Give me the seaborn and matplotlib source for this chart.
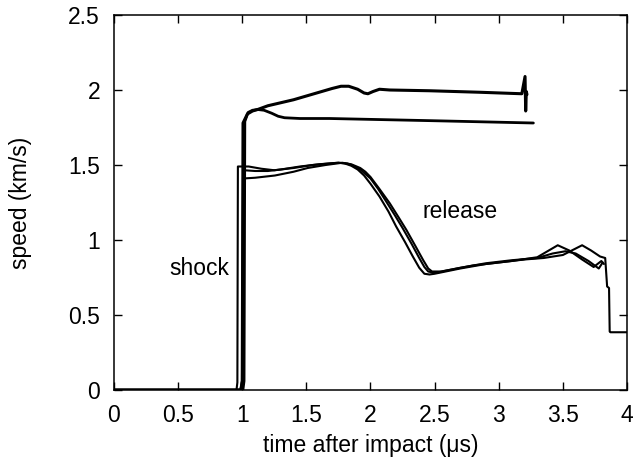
import numpy as np
import pandas as pd
import matplotlib
matplotlib.use("Agg")
import matplotlib.pyplot as plt
import seaborn as sns

# Upper pair of records (higher impact speed)
t_a = [0, 0.99, 1.0, 1.006, 1.04, 1.08, 1.12, 1.2, 1.3, 1.4, 1.5, 1.6, 1.7, 1.77, 1.83, 1.9, 1.95, 1.98,
       2.02, 2.07, 2.15, 2.46, 2.85, 3.18, 3.205, 3.21, 3.215, 3.22]
v_a = [0, 0.0, 0.06, 1.78, 1.84, 1.86, 1.87, 1.895, 1.915, 1.935, 1.96, 1.985, 2.01, 2.025, 2.025, 2.005, 1.98, 1.975,
       1.99, 2.005, 2.0, 1.995, 1.985, 1.975, 2.09, 1.86, 1.99, 1.97]

t_b = [0, 1.005, 1.014, 1.02, 1.045, 1.08, 1.12, 1.17, 1.23, 1.28, 1.33, 1.45, 1.68, 2.5, 3.27]
v_b = [0, 0.0, 0.06, 1.79, 1.85, 1.865, 1.87, 1.865, 1.845, 1.825, 1.815, 1.81, 1.81, 1.795, 1.78]

# Lower three records
t_c = [0, 0.955, 0.962, 0.966, 1.05, 1.15, 1.25, 1.4, 1.55, 1.7, 1.75, 1.8, 1.85, 1.9, 1.95, 2.0, 2.07, 2.14,
       2.2, 2.27, 2.33, 2.38, 2.42, 2.46, 2.5, 2.7, 2.9, 3.1, 3.3, 3.46, 3.55, 3.65, 3.74, 3.8, 3.82]
v_c = [0, 0.0, 0.05, 1.49, 1.49, 1.475, 1.465, 1.48, 1.5, 1.512, 1.515, 1.51, 1.495, 1.47, 1.43, 1.375, 1.29, 1.19,
       1.09, 0.985, 0.89, 0.815, 0.775, 0.77, 0.775, 0.81, 0.84, 0.86, 0.885, 0.965, 0.93, 0.87, 0.82, 0.86, 0.84]

t_d = [0, 0.985, 0.998, 1.006, 1.1, 1.255, 1.4, 1.51, 1.65, 1.78, 1.85, 1.92, 1.96, 2.0, 2.07, 2.15, 2.22,
       2.28, 2.35, 2.41, 2.45, 2.48, 2.55, 2.8, 3.0, 3.2, 3.35, 3.5, 3.65, 3.72, 3.79, 3.83, 3.845, 3.86,
       3.865, 3.87, 4.0]
v_d = [0, 0.0, 0.06, 1.41, 1.415, 1.43, 1.455, 1.48, 1.50, 1.515, 1.505, 1.48, 1.455, 1.42, 1.34, 1.245, 1.15,
       1.067, 0.96, 0.867, 0.81, 0.79, 0.79, 0.83, 0.85, 0.87, 0.88, 0.9, 0.965, 0.93, 0.89, 0.88, 0.69, 0.68,
       0.39, 0.385, 0.385]

t_e = [0, 0.995, 1.008, 1.015, 1.1, 1.2, 1.3, 1.45, 1.6, 1.75, 1.82, 1.88, 1.92, 1.96, 2.0, 2.06, 2.12, 2.19,
       2.25, 2.32, 2.38, 2.42, 2.45, 2.5, 2.7, 2.9, 3.1, 3.3, 3.42, 3.52, 3.6, 3.7, 3.78, 3.81]
v_e = [0, 0.0, 0.06, 1.465, 1.46, 1.46, 1.47, 1.49, 1.505, 1.515, 1.51, 1.49, 1.47, 1.44, 1.41, 1.34, 1.26, 1.165,
       1.08, 0.975, 0.88, 0.82, 0.79, 0.78, 0.815, 0.845, 0.865, 0.88, 0.91, 0.925, 0.91, 0.86, 0.81, 0.85]

x_ticks = [0, 0.5, 1, 1.5, 2, 2.5, 3, 3.5, 4]
x_tick_labels = ["0", "0.5", "1", "1.5", "2", "2.5", "3", "3.5", "4"]
y_ticks = [0, 0.5, 1, 1.5, 2, 2.5]
y_tick_labels = ["0", "0.5", "1", "1.5", "2", "2.5"]

series = {"a": (t_a, v_a), "b": (t_b, v_b), "c": (t_c, v_c), "d": (t_d, v_d), "e": (t_e, v_e)}
widths = {"a": 2.2, "b": 2.0, "c": 1.5, "d": 1.5, "e": 1.5}

sns.set_style("ticks")
plt.rcParams["font.family"] = ["Liberation Sans", "DejaVu Sans"]
plt.rcParams["text.color"] = "black"
plt.rcParams["axes.labelcolor"] = "black"

fig = plt.figure(figsize=(6.37, 4.57), dpi=100)
ax = fig.add_axes([114 / 637, 67 / 457, 513 / 637, 375 / 457])

for name, (t, v) in series.items():
    df = pd.DataFrame({"t": t, "v": v})
    sns.lineplot(data=df, x="t", y="v", estimator=None, sort=False,
                 color="black", linewidth=widths[name], ax=ax)

ax.set_xlim(0, 4)
ax.set_ylim(0, 2.5)
ax.set_xticks(x_ticks)
ax.set_xticklabels(x_tick_labels)
ax.set_yticks(y_ticks)
ax.set_yticklabels(y_tick_labels)
ax.tick_params(direction="in", length=6, width=1, top=True, right=True,
               labelsize=16.5, pad=10, colors="black")
for s in ax.spines.values():
    s.set_visible(True)
    s.set_linewidth(1.1)
    s.set_color("black")

ax.set_xlabel("time after impact (\u03bcs)", fontsize=16.5, labelpad=5, color="black")
ax.set_ylabel("speed (km/s)", fontsize=16.5, labelpad=26, color="black")

ax.text(0.667, 0.813, "shock", fontsize=16.5, ha="center", va="center", color="black")
ax.text(2.70, 1.187, "release", fontsize=16.5, ha="center", va="center", color="black")

fig.savefig("out.png", dpi=100)
